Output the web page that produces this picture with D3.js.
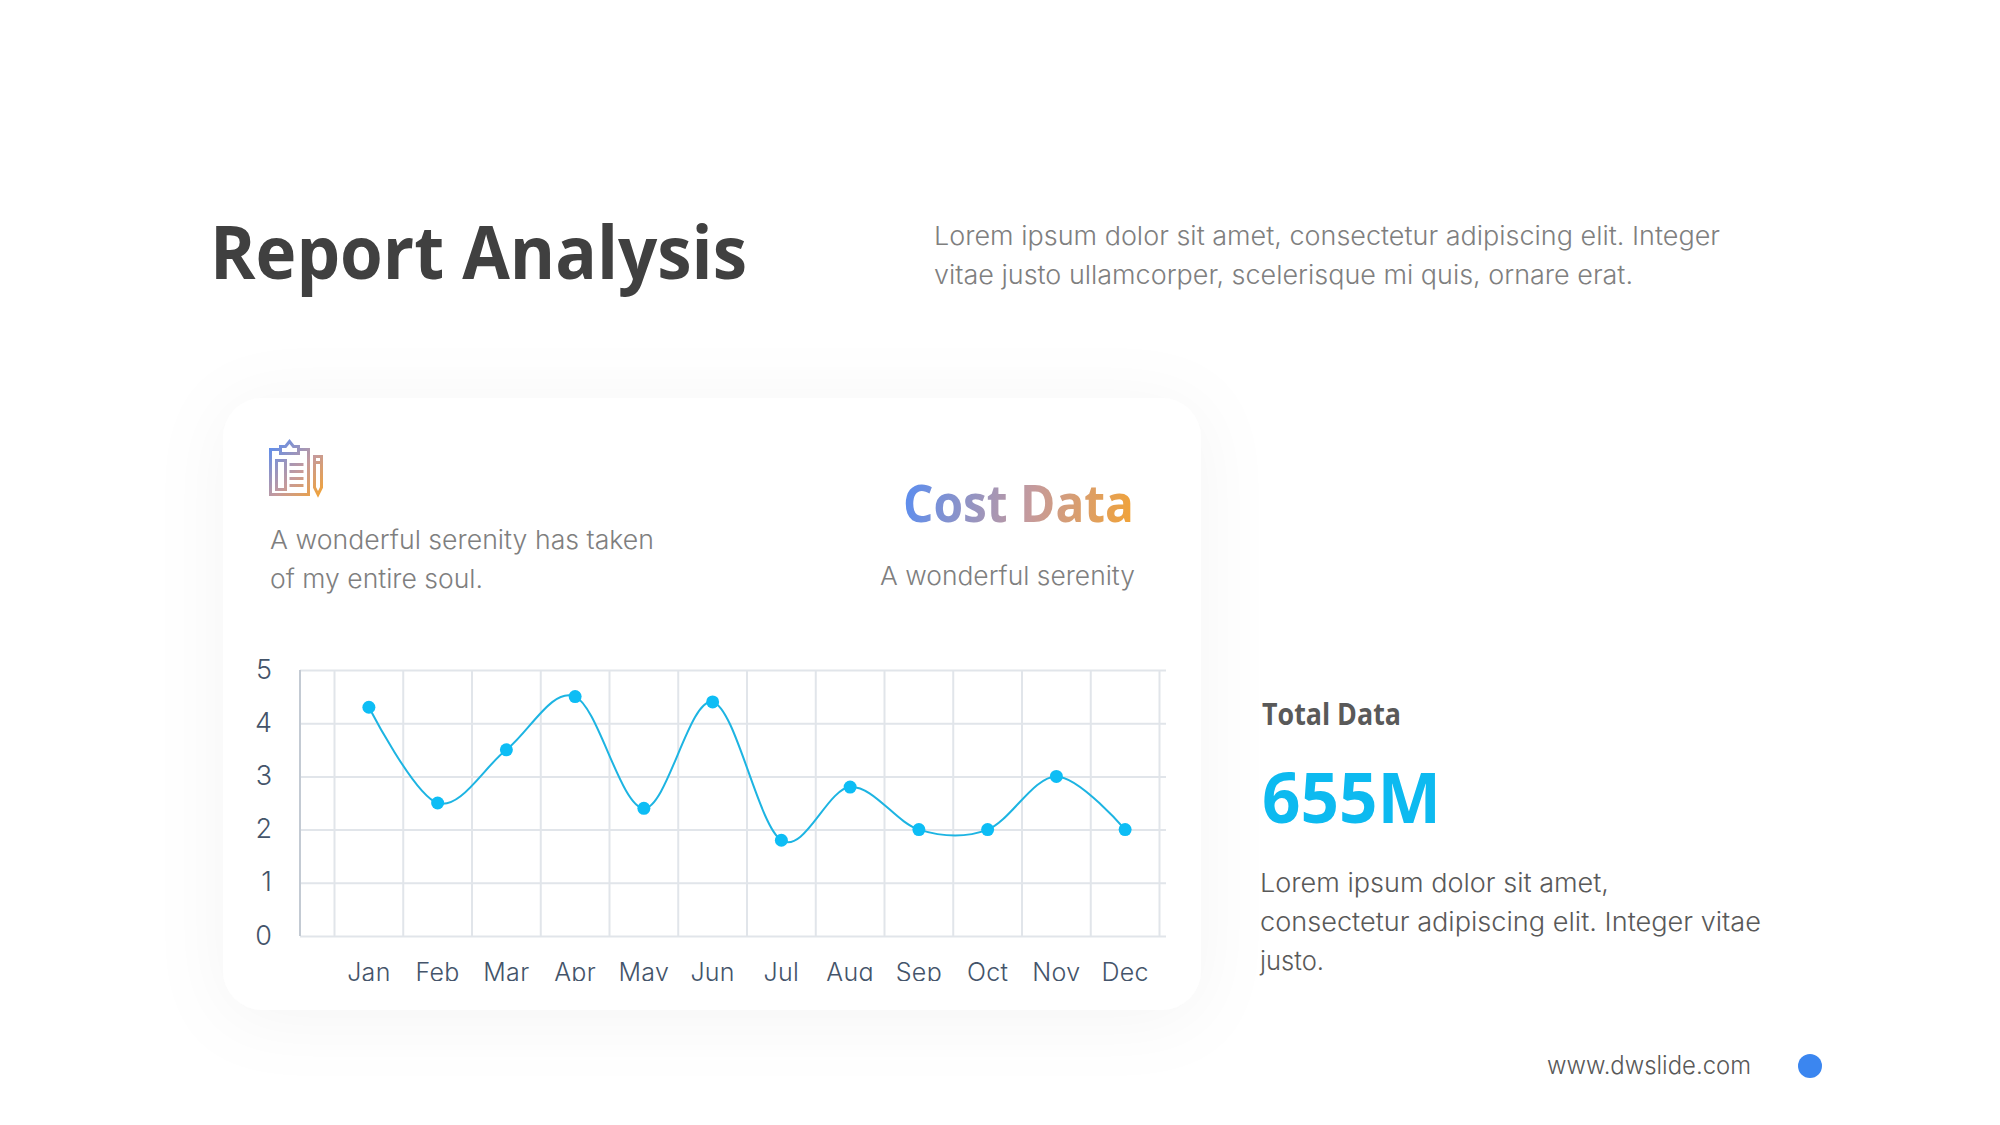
<!DOCTYPE html>
<html>
<head>
<meta charset="utf-8">
<script src="https://cdn.jsdelivr.net/npm/d3@7"></script>
<style>
  html, body { margin: 0; padding: 0; background: #fff; }
  svg { display: block; }
  .body-text { font-family: Inter, "Open Sans", sans-serif; font-weight: 300; }
  .head-text { font-family: "Open Sans", sans-serif; }
</style>
</head>
<body>
<svg id="chart"></svg>
<script>
const months = ['Jan', 'Feb', 'Mar', 'Apr', 'May', 'Jun', 'Jul', 'Aug', 'Sep', 'Oct', 'Nov', 'Dec'];
const costValues = [4.3, 2.5, 3.5, 4.5, 2.4, 4.4, 1.8, 2.8, 2.0, 2.0, 3.0, 2.0];
const yTicks = [0, 1, 2, 3, 4, 5];

const width = 2000;
const height = 1125;

const svg = d3.select('#chart').attr('width', width).attr('height', height);
const defs = svg.append('defs');

// soft shadow around the card
const shadow = defs.append('filter').attr('id', 'card-shadow')
  .attr('x', '-20%').attr('y', '-20%').attr('width', '140%').attr('height', '140%');
shadow.append('feDropShadow')
  .attr('dx', 0).attr('dy', 8)
  .attr('stdDeviation', 36)
  .attr('flood-color', '#000')
  .attr('flood-opacity', 0.045);

// blue -> orange used by the icon and the Cost Data heading
const addGradient = (id, x1, y1, x2, y2) => {
  const g = defs.append('linearGradient').attr('id', id)
    .attr('gradientUnits', 'userSpaceOnUse')
    .attr('x1', x1).attr('y1', y1).attr('x2', x2).attr('y2', y2);
  g.append('stop').attr('offset', '0%').attr('stop-color', '#5a8df0');
  g.append('stop').attr('offset', '55%').attr('stop-color', '#c59a9c');
  g.append('stop').attr('offset', '100%').attr('stop-color', '#f2a336');
};
addGradient('icon-gradient', 270, 445, 322, 496);
addGradient('title-gradient', 903, 487, 1134, 527);

// month labels lose their descenders in the original
defs.append('clipPath').attr('id', 'month-clip')
  .append('rect').attr('x', 300).attr('y', 950).attr('width', 880).attr('height', 31);

const addText = (str, x, y, size, color, opts = {}) => {
  const t = svg.append('text')
    .attr('class', opts.cls || 'body-text')
    .attr('x', x).attr('y', y)
    .attr('font-size', size)
    .attr('fill', color)
    .attr('text-anchor', opts.anchor || 'start')
    .text(str);
  if (opts.weight) t.style('font-weight', opts.weight);
  if (opts.len) t.attr('textLength', opts.len).attr('lengthAdjust', 'spacingAndGlyphs');
  return t;
};

// header
addText('Report Analysis', 210, 279, 73, '#404040', { cls: 'head-text', weight: 700, len: 537 });
addText('Lorem ipsum dolor sit amet, consectetur adipiscing elit. Integer', 934, 245, 26, '#7f7f7f', { len: 786 });
addText('vitae justo ullamcorper, scelerisque mi quis, ornare erat.', 934, 284, 26, '#7f7f7f', { len: 699 });

// card
svg.append('rect')
  .attr('x', 223).attr('y', 398)
  .attr('width', 978).attr('height', 612)
  .attr('rx', 40)
  .attr('fill', '#fff')
  .attr('filter', 'url(#card-shadow)');

// clipboard icon
const icon = svg.append('g')
  .attr('transform', 'translate(-0.5,-0.5)')
  .attr('fill', 'none')
  .attr('stroke', 'url(#icon-gradient)')
  .attr('stroke-width', 3);
icon.append('path').attr('d', 'M281 450H271V495H309V450H299');
icon.append('path').attr('d', 'M281 454V447H286L290 442L294 447H299V454Z');
icon.append('rect').attr('x', 277).attr('y', 461).attr('width', 9).attr('height', 29);
[465, 472, 479, 486].forEach(y => {
  icon.append('path').attr('d', `M290 ${y}H304`);
});
icon.append('path').attr('d', 'M315 457H322V488L318.5 495L315 488Z');
icon.append('path').attr('d', 'M315 463H322');

// card text
addText('A wonderful serenity has taken', 270, 549, 26, '#7f7f7f', { len: 384 });
addText('of my entire soul.', 270, 588, 26, '#7f7f7f', { len: 213 });
addText('Cost Data', 1134, 522, 52, 'url(#title-gradient)', { cls: 'head-text', weight: 700, anchor: 'end', len: 231 });
addText('A wonderful serenity', 1135, 585, 26, '#7f7f7f', { anchor: 'end', len: 255 });

// chart
const plotLeft = 300;
const plotRight = 1166;
const plotTop = 670;
const plotBottom = 936;

const x = d3.scaleBand().domain(months).range([334.5, 1159.5]);
const y = d3.scaleLinear().domain([0, 5]).range([plotBottom, plotTop]);

// horizontal grid
svg.append('g')
  .attr('transform', `translate(${plotLeft},0)`)
  .call(d3.axisLeft(y).tickValues(yTicks).tickSize(-(plotRight - plotLeft)).tickFormat(''))
  .call(g => g.select('.domain').remove())
  .call(g => g.selectAll('line').attr('stroke', '#e1e5ea').attr('stroke-width', 2));

// vertical grid at the band edges
svg.append('g')
  .selectAll('line')
  .data(months.concat(['end']))
  .join('line')
  .attr('x1', (d, i) => i < months.length ? x(d) : x.range()[1])
  .attr('x2', (d, i) => i < months.length ? x(d) : x.range()[1])
  .attr('y1', plotTop)
  .attr('y2', plotBottom)
  .attr('stroke', '#e1e5ea')
  .attr('stroke-width', 2);

// y axis line
svg.append('line')
  .attr('x1', plotLeft).attr('x2', plotLeft)
  .attr('y1', plotTop).attr('y2', plotBottom)
  .attr('stroke', '#c3cad3').attr('stroke-width', 2);

// tick labels
svg.append('g')
  .attr('transform', 'translate(272,-0.5)')
  .call(d3.axisLeft(y).tickValues(yTicks).tickFormat(d3.format('d')).tickSize(0).tickPadding(0))
  .call(g => g.select('.domain').remove())
  .call(g => g.selectAll('text')
    .attr('class', 'body-text')
    .attr('font-size', 27)
    .attr('fill', '#44546a'));

svg.append('g')
  .attr('clip-path', 'url(#month-clip)')
  .append('g')
  .attr('transform', 'translate(0,981)')
  .call(d3.axisBottom(x).tickSize(0).tickPadding(0))
  .call(g => g.select('.domain').remove())
  .call(g => g.selectAll('text')
    .attr('class', 'body-text')
    .attr('y', 0)
    .attr('dy', 0)
    .attr('font-size', 25)
    .attr('letter-spacing', 0.3)
    .attr('fill', '#44546a'));

// line + points
const center = d => x(d) + x.bandwidth() / 2;
const line = d3.line()
  .x((d, i) => center(months[i]))
  .y(d => y(d))
  .curve(d3.curveCardinal.tension(0));

svg.append('path')
  .datum(costValues)
  .attr('d', line)
  .attr('fill', 'none')
  .attr('stroke', '#1db4e2')
  .attr('stroke-width', 2);

svg.append('g')
  .selectAll('circle')
  .data(costValues)
  .join('circle')
  .attr('cx', (d, i) => center(months[i]))
  .attr('cy', d => y(d))
  .attr('r', 6.5)
  .attr('fill', '#0dbdf5');

// right column
addText('Total Data', 1262, 725, 30, '#595959', { cls: 'head-text', weight: 700, len: 139 });
addText('655M', 1262, 823, 70, '#0dbaf0', { cls: 'head-text', weight: 700, len: 179 });
addText('Lorem ipsum dolor sit amet,', 1260, 892, 26, '#595959', { len: 349 });
addText('consectetur adipiscing elit. Integer vitae', 1260, 931, 26, '#595959', { len: 501 });
addText('justo.', 1260, 970, 26, '#595959', { len: 64 });

// footer
addText('www.dwslide.com', 1547, 1074, 25, '#595959', { len: 204 });
svg.append('circle').attr('cx', 1810).attr('cy', 1066).attr('r', 12).attr('fill', '#3b86f0');
</script>
</body>
</html>
